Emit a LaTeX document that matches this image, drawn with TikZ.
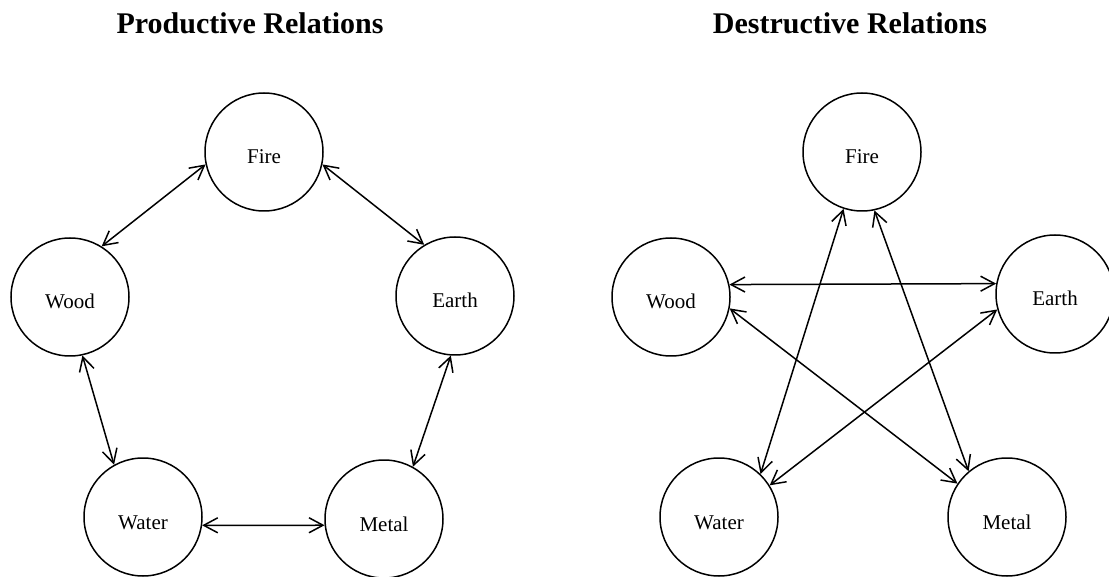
\documentclass[tikz,border=0pt]{standalone}
\usepackage{fontspec}
\setmainfont{Liberation Serif}
\usetikzlibrary{arrows.meta}

\begin{document}
\begin{tikzpicture}[x=1pt, y=-1pt]
      \tikzstyle{element} = [circle, draw=black, line width=1.5pt, minimum size=118pt, inner sep=0pt, text height=24pt, text depth=0pt, font=\fontsize{21pt}{25pt}\selectfont]
      \tikzstyle{heading} = [anchor=base, font=\bfseries\fontsize{30pt}{34pt}\selectfont]
      \tikzstyle{arrow} = [line width=1.5pt, {Straight Barb[length=14pt,width=15pt]}-{Straight Barb[length=14pt,width=15pt]}]

      \useasboundingbox (0,0) rectangle (1109,577);

      % productive relations
      \node (title-p) [heading] at (250,34) {Productive Relations};
      \node (fire-p) [element] at (264,152) {Fire};
      \node (wood-p) [element] at (70,297) {Wood};
      \node (earth-p) [element] at (455,296) {Earth};
      \node (water-p) [element] at (143,517) {Water};
      \node (metal-p) [element] at (384,519) {Metal};

      \draw [arrow] (wood-p.58) -- (fire-p.192);
      \draw [arrow] (fire-p.348) -- (earth-p.121);
      \draw [arrow] (wood-p.282) -- (water-p.119);
      \draw [arrow] (earth-p.266) -- (metal-p.61);
      \draw [arrow] (water-p.352) -- (metal-p.186);

      % destructive relations
      \node (title-d) [heading] at (850,34) {Destructive Relations};
      \node (fire-d) [element] at (862,152) {Fire};
      \node (wood-d) [element] at (671,297) {Wood};
      \node (earth-d) [element] at (1055,294) {Earth};
      \node (water-d) [element] at (719,517) {Water};
      \node (metal-d) [element] at (1007,517) {Metal};

      \draw [arrow] (wood-d.12) -- (earth-d.170);
      \draw [arrow] (wood-d.349) -- (metal-d.146);
      \draw [arrow] (earth-d.195) -- (water-d.32);
      \draw [arrow] (fire-d.252) -- (water-d.46);
      \draw [arrow] (fire-d.282) -- (metal-d.130);
    \end{tikzpicture}
\end{document}
